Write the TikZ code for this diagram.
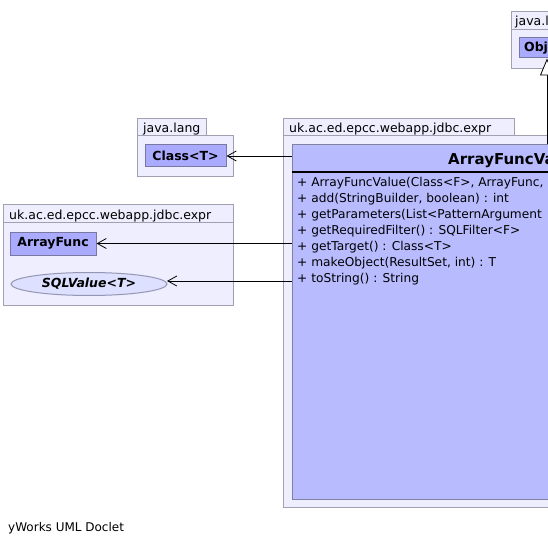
\documentclass[tikz,border=0pt]{standalone}
\usepackage{fontspec}
\setmainfont{DejaVu Sans}
\usetikzlibrary{arrows.meta,shapes.geometric,calc}
\definecolor{pkgfill}{RGB}{238,238,254}
\definecolor{pkgline}{RGB}{160,160,176}
\definecolor{refill}{RGB}{170,170,255}
\definecolor{refline}{RGB}{120,120,160}
\definecolor{clsfill}{RGB}{184,188,255}
\definecolor{clsline}{RGB}{128,128,160}
\definecolor{ellfill}{RGB}{221,224,255}
\definecolor{ellline}{RGB}{150,150,180}
\tikzset{
  pkgbox/.style={draw=pkgline, fill=pkgfill, line width=1pt},
  pkglabel/.style={font=\fontsize{12.5}{14}\selectfont, anchor=base west, inner sep=0pt},
  refbox/.style={draw=refline, fill=refill, line width=1pt, font=\fontsize{12.5}{14}\selectfont\bfseries, inner sep=0pt},
  ellbox/.style={ellipse, draw=ellline, fill=ellfill, line width=1pt, font=\fontsize{12.5}{14}\selectfont\bfseries\itshape, inner sep=0pt},
  clsbox/.style={draw=clsline, fill=clsfill, line width=1pt, inner sep=0pt},
  member/.style={font=\fontsize{12.2}{14}\selectfont, anchor=base west, inner sep=0pt},
  dep/.style={-{Straight Barb[length=9pt,width=10pt,line width=0.8pt]}, line width=0.9pt},
  gen/.style={-{Triangle[open,length=17pt,width=14pt,fill=white,line width=0.8pt]}, line width=1pt}
}
\begin{document}
\begin{tikzpicture}[x=1pt,y=-1pt]
\useasboundingbox[fill=white] (0,0) rectangle (548,545);

% top-right package java.lang
\draw[pkgbox] (511,12) rectangle (590,30);
\node[pkglabel] (pkgtr) at (515,26) {java.lang};
\draw[pkgbox] (511,30) rectangle (583,69);
\node[refbox, minimum width=56, minimum height=20] (obj) at (547,48) {Object};

% left package java.lang
\draw[pkgbox] (137,119) rectangle (206,136);
\node[pkglabel] (pkgl) at (143,132.5) {java.lang};
\draw[pkgbox] (137,136) rectangle (233,177);
\node[refbox, minimum width=81, minimum height=22] (clsT) at (185.5,156) {Class<T>};

% left package uk.ac.ed...
\draw[pkgbox] (3,205) rectangle (233,223);
\node[pkglabel] (pkgu) at (9,219) {uk.ac.ed.epcc.webapp.jdbc.expr};
\draw[pkgbox] (3,223) rectangle (233,305);
\node[refbox, minimum width=86, minimum height=23] (af) at (53,243.5) {ArrayFunc};
\node[ellbox, minimum width=156, minimum height=23] (sqlv) at (89,284) {SQLValue<T>};

% main package
\draw[pkgbox] (283,119) rectangle (514,136);
\node[pkglabel] (pkgm) at (289,132.5) {uk.ac.ed.epcc.webapp.jdbc.expr};
\draw[pkgbox] (283,136) rectangle (811,507);

% main class
\node[clsbox, minimum width=510, minimum height=354] (afv) at (547,322) {};
\draw[line width=2.4pt] (292,172) -- (802,172);
\node[anchor=base west, inner sep=0pt, font=\fontsize{15}{17}\selectfont\bfseries] (title) at (448,165) {ArrayFuncValue};
\node[member] (m1) at (297,186.5) {+ ArrayFuncValue(Class<F>, ArrayFunc,};
\node[member] (m2) at (297,202.5) {+ add(StringBuilder, boolean) : int};
\node[member] (m3) at (297,218.5) {+ getParameters(List<PatternArgument};
\node[member] (m4) at (297,234.5) {+ getRequiredFilter() : SQLFilter<F>};
\node[member] (m5) at (297,250.5) {+ getTarget() : Class<T>};
\node[member] (m6) at (297,266.5) {+ makeObject(ResultSet, int) : T};
\node[member] (m7) at (297,282.5) {+ toString() : String};

% connectors
\draw[dep] (afv.west |- clsT) -- (clsT.east);
\draw[dep] (afv.west |- af) -- (af.east);
\coordinate (sqlend) at (167,281);
\draw[dep] (afv.west |- sqlend) -- (sqlend);
\draw[gen] (afv.north) -- (obj.south);

\node[anchor=base west, inner sep=0pt, font=\fontsize{12}{14}\selectfont] (foot) at (8,531) {yWorks UML Doclet};
\end{tikzpicture}
\end{document}
